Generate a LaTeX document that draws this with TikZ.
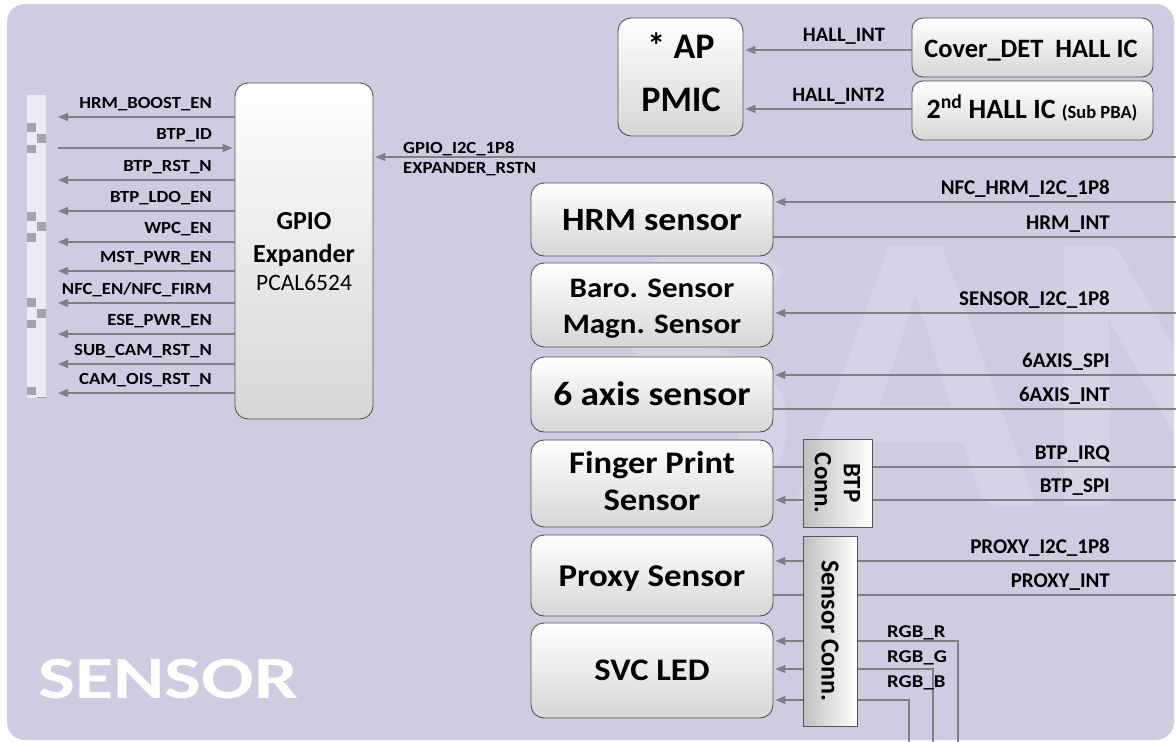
\documentclass[tikz,border=0pt]{standalone}
\usepackage{fontspec}
\setmainfont{Carlito}
\newfontfamily\sA{Carlito}[FakeStretch=1.1]
\newfontfamily\sB{Carlito}[FakeStretch=1.15]
\newfontfamily\sD{Carlito}[FakeStretch=1.3]
\usetikzlibrary{arrows.meta,calc}
\definecolor{bg}{RGB}{208,203,225}
\definecolor{strip}{RGB}{236,234,243}
\definecolor{sq}{RGB}{165,163,172}
\definecolor{wire}{RGB}{128,128,128}
\definecolor{bord}{RGB}{85,85,85}
\definecolor{boxbot}{RGB}{214,214,214}
\newcommand\fsz[2]{\fontsize{#1}{#2}\selectfont}
\tikzset{
  sig/.style={draw=wire, line width=1.3pt},
  arr/.style={sig, -{Triangle[length=10pt,width=8pt]}, shorten >=2pt},
  box/.style={draw=bord, line width=0.9pt, rounded corners=13pt, top color=white, bottom color=boxbot, inner sep=0pt},
  conn/.style={draw=bord, line width=0.9pt, left color=gray!50, right color=white, inner sep=0pt},
  txt/.style={inner sep=0pt, anchor=base},
  lbl/.style={font=\sA\bfseries\fsz{17}{19}, inner sep=0pt},
  rlbl/.style={font=\bfseries\fsz{21}{23}, inner sep=0pt, anchor=base east},
  title/.style={txt, font=\sA\bfseries\fsz{32.5}{35}},
}
\begin{document}
\begin{tikzpicture}[x=1pt,y=-1pt]
\useasboundingbox (0,0) rectangle (1176,742);
\fill[white] (0,0) rectangle (1176,742);
\fill[bg, rounded corners=18pt] (7,4) rectangle (1174,740);
% watermark
\begin{scope}
\clip[rounded corners=18pt] (7,4) rectangle (1174,740);
\node[anchor=base west, inner sep=0pt, text=white, text opacity=0.17, font=\bfseries\fsz{400}{400}] (wm) at (610,505) {SAM};
\end{scope}
% left strip
\fill[strip] (27,95) rectangle (46,398);
\foreach \a/\b in {123/132,145/153,212/221,233/242,298/307,320/328,387/395}
  \fill[sq] (27,\a) rectangle (36,\b);
\foreach \a/\b in {134/143,222/231,309/318}
  \fill[sq] (37,\a) rectangle (46,\b);
\draw[sq, line width=1pt] (37,397) -- (46,397);

% boxes
\node[box, minimum width=138pt, minimum height=336pt] (gpio) at (304,251) {};
\node[txt, font=\bfseries\fsz{26}{30}] (gpio1) at (304,229) {GPIO};
\node[txt, font=\bfseries\fsz{26}{30}] (gpio2) at (304,262) {Expander};
\node[txt, font=\fsz{23.5}{28}] (gpio3) at (304,290) {PCAL6524};

\node[box, minimum width=125pt, minimum height=118pt] (pmic) at (680.5,77) {};
\node[txt, font=\bfseries\fsz{36}{40}] (pmic1) at (681,58) {* AP};
\node[txt, font=\bfseries\fsz{36}{40}] (pmic2) at (681,111) {PMIC};

\node[box, rounded corners=11pt, minimum width=241pt, minimum height=59pt] (cover) at (1032.5,47.5) {};
\node[txt, font=\bfseries\fsz{26.5}{30}] (covert) at (1031,57) {Cover\_DET\ \ HALL IC};
\node[box, rounded corners=11pt, minimum width=241pt, minimum height=59pt] (hall2) at (1032.5,110.5) {};
\node[txt, font=\bfseries\fsz{28}{32}] (hall2t) at (1032,118) {2\textsuperscript{nd} HALL IC {\fsz{18.5}{21}(Sub PBA)}};

\node[box, minimum width=242pt, minimum height=73pt] (hrm) at (652,219.5) {};
\node[title] (hrmt) at (652,230) {HRM sensor};
\node[box, minimum width=242pt, minimum height=84pt] (baro) at (652,305) {};
\node[title, font=\sA\bfseries\fsz{28.2}{31}] (barot1) at (652,297) {Baro. Sensor};
\node[title, font=\sA\bfseries\fsz{28.2}{31}] (barot2) at (652,333) {Magn. Sensor};
\node[box, minimum width=242pt, minimum height=75pt] (six) at (652,394.5) {};
\node[title, font=\sA\bfseries\fsz{34}{37}] (sixt) at (652,405) {6 axis sensor};
\node[box, minimum width=242pt, minimum height=87pt] (fp) at (652,483.5) {};
\node[title, font=\sA\bfseries\fsz{31.4}{34}] (fpt1) at (652,473) {Finger Print};
\node[title, font=\sA\bfseries\fsz{31.4}{34}] (fpt2) at (652,510) {Sensor};
\node[box, minimum width=242pt, minimum height=81pt] (proxy) at (652,575.5) {};
\node[title, font=\sA\bfseries\fsz{31.7}{34}] (proxyt) at (652,586) {Proxy Sensor};
\node[box, minimum width=242pt, minimum height=95pt] (svc) at (652,670.5) {};
\node[title, font=\sA\bfseries\fsz{31.4}{34}] (svct) at (652,680) {SVC LED};

% left signals
\foreach \t/\y [count=\i] in {HRM\_BOOST\_EN/117, BTP\_RST\_N/180, BTP\_LDO\_EN/211, WPC\_EN/242, MST\_PWR\_EN/271, {NFC\_EN/NFC\_FIRM}/303, ESE\_PWR\_EN/334, SUB\_CAM\_RST\_N/364, CAM\_OIS\_RST\_N/393}{
  \coordinate (L\i) at (58,\y);
  \draw[arr, shorten >=0pt] (gpio.west |- L\i) -- (L\i);
  \node[lbl, anchor=base east] (Lt\i) at (212,\y-9) {\t};
}
\coordinate (Lid) at (58,148);
\draw[arr] (Lid) -- (gpio.west |- Lid);
\node[lbl, anchor=base east] (Ltid) at (212,139) {BTP\_ID};

% expander control
\coordinate (Rexp) at (1176,157);
\draw[arr] (Rexp) -- (gpio.east |- Rexp);
\node[lbl, anchor=base west] (texp1) at (403,153) {GPIO\_I2C\_1P8};
\node[lbl, anchor=base west] (texp2) at (403,173) {EXPANDER\_RSTN};

% hall
\draw[arr] (cover.west |- 0,50) -- (pmic.east |- 0,50);
\draw[arr] (hall2.west |- 0,109) -- (pmic.east |- 0,109);
\node[lbl, font=\bfseries\fsz{20.5}{23}, anchor=base] (thall1) at (844,41) {HALL\_INT};
\node[lbl, font=\bfseries\fsz{20.5}{23}, anchor=base] (thall2) at (838.5,101) {HALL\_INT2};

% right signals
\foreach \n/\t/\y/\k in {hrm/NFC\_HRM\_I2C\_1P8/202/a, hrm/HRM\_INT/237/n, baro/SENSOR\_I2C\_1P8/313/a, six/6AXIS\_SPI/375/a, six/6AXIS\_INT/409/n, fp/BTP\_IRQ/467/n, fp/BTP\_SPI/500/a, proxy/PROXY\_I2C\_1P8/561/a, proxy/PROXY\_INT/595/n}{
  \coordinate (R\y) at (1176,\y);
  \if\k a
    \draw[arr] (R\y) -- (\n.east |- R\y);
  \else
    \draw[sig] (\n.east |- R\y) -- (R\y);
  \fi
  \node[rlbl] (Rt\y) at (1110,\y-8) {\t};
}

% RGB
\coordinate (rgbR) at (958,742);
\coordinate (rgbG) at (933,742);
\coordinate (rgbB) at (909,742);
\draw[arr] (rgbR) |- (svc.east |- 0,641);
\draw[arr] (rgbG) |- (svc.east |- 0,669);
\draw[arr] (rgbB) |- (svc.east |- 0,700);
\node[lbl, font=\sB\bfseries\fsz{18}{20}, anchor=base west] (tR) at (887,637) {RGB\_R};
\node[lbl, font=\sB\bfseries\fsz{18}{20}, anchor=base west] (tG) at (887,662) {RGB\_G};
\node[lbl, font=\sB\bfseries\fsz{18}{20}, anchor=base west] (tB) at (887,687) {RGB\_B};

% connector boxes (on top of wires)
\node[conn, minimum width=69pt, minimum height=88pt] (btpc) at (837.5,483) {};
\node[rotate=-90, align=center, inner sep=0pt, font=\bfseries\fsz{25}{29}] (btpct) at (btpc.center) {BTP\\Conn.};
\node[conn, minimum width=54pt, minimum height=190pt] (senc) at (830,631) {};
\node[rotate=-90, inner sep=0pt, font=\bfseries\fsz{26}{28}] (senct) at (senc.center) {Sensor Conn.};

% title
\node[anchor=base west, inner sep=0pt, text=white, font=\sD\bfseries\fsz{60}{60}] (title) at (38,698) {SENSOR};
\end{tikzpicture}
\end{document}
